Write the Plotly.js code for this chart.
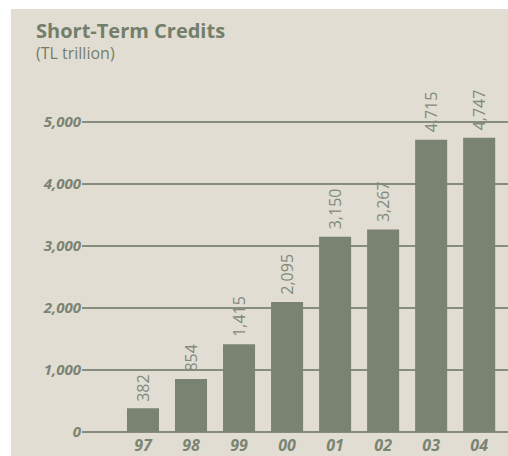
<!DOCTYPE html>
<html>
<head>
<meta charset="utf-8">
<script src="https://cdn.plot.ly/plotly-3.0.1.min.js"></script>
<style>
html,body{margin:0;padding:0;background:#ffffff;}
#chart{position:absolute;left:11px;top:9px;width:497px;height:447px;}
</style>
</head>
<body>
<div id="chart"></div>
<script>
const years = ['97','98','99','00','01','02','03','04'];
const credits = [382, 854, 1415, 2095, 3150, 3267, 4715, 4747];
const labels = ['382','854','1,415','2,095','3,150','3,267','4,715','4,747'];
const yTicks = [0, 1000, 2000, 3000, 4000, 5000];
const yTickText = ['0','1,000','2,000','3,000','4,000','5,000'];

const barColor = '#7a8272';
const textColor = '#7b8373';
const bg = '#e1ddd2';
const fontFam = '"Open Sans", "Noto Sans", sans-serif';

const trace = {
  type: 'bar',
  x: years,
  y: credits,
  marker: {color: barColor},
  hoverinfo: 'none'
};

const plotH = 357, plotW = 426;

const valueAnns = years.map((yr, i) => ({
  x: i, y: credits[i], xref: 'x', yref: 'y',
  text: labels[i], textangle: -90, showarrow: false,
  xanchor: 'center', yanchor: 'bottom', yshift: 5,
  font: {family: fontFam, size: 16, color: '#838a7a'}
}));

const layout = {
  width: 497, height: 447,
  margin: {l: 71, r: 0, t: 66, b: 24},
  paper_bgcolor: bg,
  plot_bgcolor: bg,
  showlegend: false,
  bargap: 0.333,
  xaxis: {
    type: 'category',
    range: [-1.27, 7.6],
    showgrid: false, zeroline: false, showline: false,
    ticks: '', ticklabelstandoff: 2,
    tickfont: {family: fontFam, size: 16, color: textColor, weight: 'bold', style: 'italic'}
  },
  yaxis: {
    range: [0, 5758],
    tickvals: yTicks,
    ticktext: yTickText,
    showgrid: true, gridcolor: '#868d7e', gridwidth: 1.5,
    zeroline: true, zerolinecolor: '#868d7e', zerolinewidth: 1.5,
    showline: false, ticks: '',
    tickfont: {family: fontFam, size: 15, color: textColor, weight: 'bold', style: 'italic'}
  },
  annotations: [
    {text: 'Short-Term Credits', xref: 'paper', yref: 'paper', x: -48/plotW, y: 1 + (66-21)/plotH,
     xanchor: 'left', yanchor: 'middle', showarrow: false,
     font: {family: fontFam, size: 20, color: '#737e6b', weight: 'bold'}},
    {text: '(TL trillion)', xref: 'paper', yref: 'paper', x: -48/plotW, y: 1 + (66-44)/plotH,
     xanchor: 'left', yanchor: 'middle', showarrow: false,
     font: {family: fontFam, size: 16, color: '#737e6b'}}
  ].concat(valueAnns)
};

Plotly.newPlot('chart', [trace], layout, {displayModeBar: false, staticPlot: true});
</script>
</body>
</html>
